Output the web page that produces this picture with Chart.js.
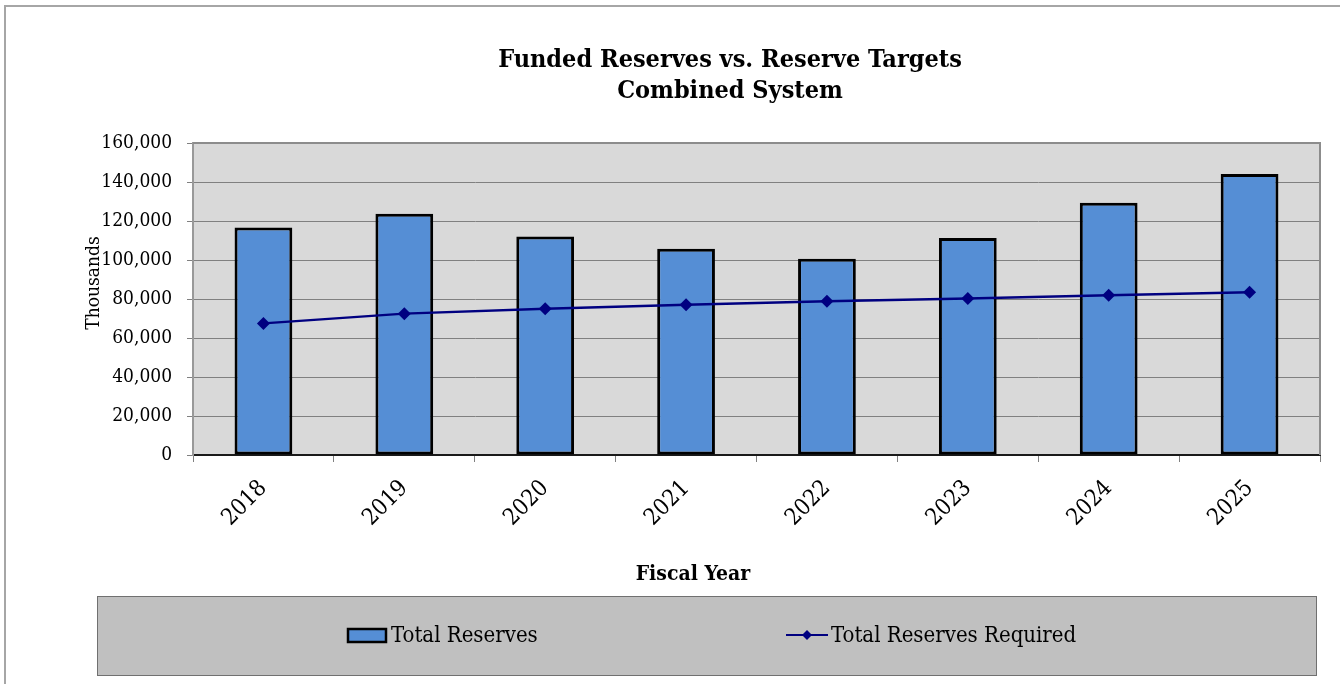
<!DOCTYPE html>
<html>
<head>
<meta charset="utf-8">
<title>Funded Reserves vs. Reserve Targets</title>
<script src="https://cdn.jsdelivr.net/npm/chart.js@4"></script>
<style>
  html, body { margin: 0; padding: 0; background: #fff; }
  #wrap { position: relative; width: 1340px; height: 684px; }
</style>
</head>
<body>
<div id="wrap"><canvas id="reservesChart"></canvas></div>
<script>
const fiscalYears = ["2018", "2019", "2020", "2021", "2022", "2023", "2024", "2025"];
const totalReserves = [116700, 123700, 112100, 105800, 100700, 111300, 129400, 144100];
const totalReservesRequired = [67500, 72500, 75000, 77100, 78800, 80200, 81900, 83400];
const yMax = 160000;
const yStep = 20000;

const titleLines = ["Funded Reserves vs. Reserve Targets", "Combined System"];
const xTitle = "Fiscal Year";
const yTitle = "Thousands";

const SERIF = "'DejaVu Serif Condensed', 'DejaVu Serif', serif";
const BAR_BLUE = "#558ed5";
const NAVY = "#000080";

Chart.defaults.font.family = SERIF;
Chart.defaults.color = "#000";

// plot background, frame, titles and the boxed legend
const decor = {
  id: "decor",
  beforeDraw(chart) {
    const { ctx, chartArea: a, width, height } = chart;
    ctx.save();
    ctx.fillStyle = "#fff";
    ctx.fillRect(0, 0, width, height);
    ctx.fillStyle = "#d9d9d9";
    ctx.fillRect(a.left, a.top, a.right - a.left, a.bottom - a.top);
    ctx.restore();
  },
  afterDraw(chart) {
    const { ctx, chartArea: a } = chart;
    ctx.save();

    // outer frame
    ctx.strokeStyle = "#a6a6a6";
    ctx.lineWidth = 2;
    ctx.beginPath();
    ctx.moveTo(5, 684);
    ctx.lineTo(5, 6);
    ctx.lineTo(1340, 6);
    ctx.stroke();

    // plot frame top / right
    ctx.strokeStyle = "#8c8c8c";
    ctx.lineWidth = 2;
    ctx.beginPath();
    ctx.moveTo(a.left, a.top);
    ctx.lineTo(a.right, a.top);
    ctx.lineTo(a.right, a.bottom);
    ctx.stroke();

    // titles
    ctx.fillStyle = "#000";
    ctx.textAlign = "center";
    ctx.textBaseline = "alphabetic";
    ctx.font = `bold 25px ${SERIF}`;
    ctx.fillText(titleLines[0], 730, 67);
    ctx.fillText(titleLines[1], 730, 98);

    ctx.font = `bold 21px ${SERIF}`;
    ctx.fillText(xTitle, 693, 580);

    ctx.save();
    ctx.translate(99, 283);
    ctx.rotate(-Math.PI / 2);
    ctx.font = `19px ${SERIF}`;
    ctx.fillText(yTitle, 0, 0);
    ctx.restore();

    // legend box
    ctx.fillStyle = "#c0c0c0";
    ctx.fillRect(98, 596, 1219, 79);
    ctx.strokeStyle = "#707070";
    ctx.lineWidth = 1;
    ctx.strokeRect(97.5, 596.5, 1219, 79);

    const bars = chart.data.datasets[1];
    const line = chart.data.datasets[0];

    ctx.fillStyle = bars.backgroundColor;
    ctx.fillRect(348, 629, 38, 13);
    ctx.strokeStyle = "#000";
    ctx.lineWidth = 2.5;
    ctx.strokeRect(348, 629, 38, 13);

    ctx.strokeStyle = line.borderColor;
    ctx.lineWidth = 2;
    ctx.beginPath();
    ctx.moveTo(786, 635);
    ctx.lineTo(828, 635);
    ctx.stroke();
    ctx.fillStyle = line.borderColor;
    ctx.beginPath();
    ctx.moveTo(807, 630);
    ctx.lineTo(812, 635);
    ctx.lineTo(807, 640);
    ctx.lineTo(802, 635);
    ctx.closePath();
    ctx.fill();

    ctx.fillStyle = "#000";
    ctx.textAlign = "left";
    ctx.font = `22px ${SERIF}`;
    ctx.fillText(bars.label, 391, 642);
    ctx.fillText(line.label, 831, 642);

    ctx.restore();
  }
};

new Chart(document.getElementById("reservesChart"), {
  data: {
    labels: fiscalYears,
    datasets: [
      {
        type: "line",
        label: "Total Reserves Required",
        data: totalReservesRequired,
        order: 0,
        borderColor: NAVY,
        backgroundColor: NAVY,
        borderWidth: 2.5,
        tension: 0,
        pointStyle: "rectRot",
        pointRadius: 6.5,
        pointBorderWidth: 0,
        pointBackgroundColor: NAVY
      },
      {
        type: "bar",
        label: "Total Reserves",
        data: totalReserves,
        order: 1,
        backgroundColor: BAR_BLUE,
        borderColor: "#000",
        borderWidth: 3,
        borderSkipped: false,
        barPercentage: 0.41,
        categoryPercentage: 1
      }
    ]
  },
  options: {
    responsive: true,
    maintainAspectRatio: false,
    animation: false,
    devicePixelRatio: 1,
    layout: { padding: { left: 0, top: 143, right: 20, bottom: 0 } },
    plugins: {
      legend: { display: false },
      title: { display: false },
      tooltip: { enabled: false }
    },
    scales: {
      x: {
        offset: true,
        afterFit(scale) { scale.height = 229; },
        grid: {
          offset: true,
          drawOnChartArea: false,
          drawTicks: true,
          tickLength: 7,
          color: "#808080"
        },
        border: { display: true, color: "#1a1a1a", width: 2 },
        ticks: {
          autoSkip: false,
          minRotation: 45,
          maxRotation: 45,
          padding: 13,
          color: "#000",
          font: { size: 23 }
        }
      },
      y: {
        min: 0,
        max: yMax,
        afterFit(scale) { scale.width = 193; },
        grid: {
          color: "#808080",
          lineWidth: 1,
          tickLength: 6
        },
        border: { display: true, color: "#999", width: 2 },
        ticks: {
          stepSize: yStep,
          padding: 15,
          color: "#000",
          font: { size: 19 },
          callback: value => value.toLocaleString("en-US")
        }
      }
    }
  },
  plugins: [decor]
});
</script>
</body>
</html>
